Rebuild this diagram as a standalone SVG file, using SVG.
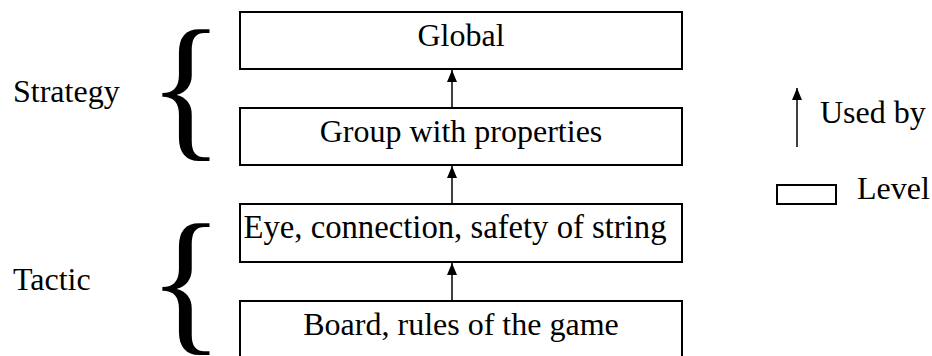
<svg xmlns="http://www.w3.org/2000/svg" width="932" height="356" viewBox="0 0 932 356">
<style>
.box{fill:#fff;stroke:#000;stroke-width:2}
.t{font-family:'Liberation Serif','Times New Roman',serif;font-size:32px;fill:#000}
.c{text-anchor:middle}
.brace{font-family:'Liberation Serif','Times New Roman',serif;font-size:158px;fill:#000}
.ln{stroke:#000;stroke-width:1.5;fill:none}
</style>
<defs>
<marker id="ah" viewBox="0 0 12 10" refX="12" refY="5" markerWidth="12" markerHeight="10" markerUnits="userSpaceOnUse" orient="auto">
<path d="M0,0 L12,5 L0,10 Z" fill="#000"/>
</marker>
</defs>
<rect width="932" height="356" fill="#fff"/>
<g id="label-strategy">
<text class="t" x="13" y="102">Strategy</text>
<text class="brace" x="148" y="140">{</text>
</g>
<g id="label-tactic">
<text class="t" x="13" y="290">Tactic</text>
<text class="brace" x="148" y="334">{</text>
</g>
<g id="node-global">
<rect class="box" x="240" y="12" width="442" height="57"/>
<text class="t c" x="461" y="46">Global</text>
</g>
<g id="node-group">
<rect class="box" x="240" y="108" width="442" height="57"/>
<text class="t c" x="461" y="142">Group with properties</text>
</g>
<g id="node-eye">
<rect class="box" x="240" y="204" width="442" height="58"/>
<text class="t c" x="455" y="238" style="font-size:32.7px">Eye, connection, safety of string</text>
</g>
<g id="node-board">
<rect class="box" x="240" y="301" width="442" height="60"/>
<text class="t c" x="461" y="335">Board, rules of the game</text>
</g>
<g id="connectors">
<line class="ln" x1="452" y1="108" x2="452" y2="70" marker-end="url(#ah)"/>
<line class="ln" x1="452" y1="204" x2="452" y2="166" marker-end="url(#ah)"/>
<line class="ln" x1="452" y1="301" x2="452" y2="263" marker-end="url(#ah)"/>
</g>
<g id="legend">
<line class="ln" x1="797" y1="147" x2="797" y2="88" marker-end="url(#ah)"/>
<text class="t" x="820" y="123">Used by</text>
<rect class="box" x="777" y="185" width="59" height="19" stroke-width="1.5"/>
<text class="t" x="857" y="199">Level</text>
</g>
</svg>
